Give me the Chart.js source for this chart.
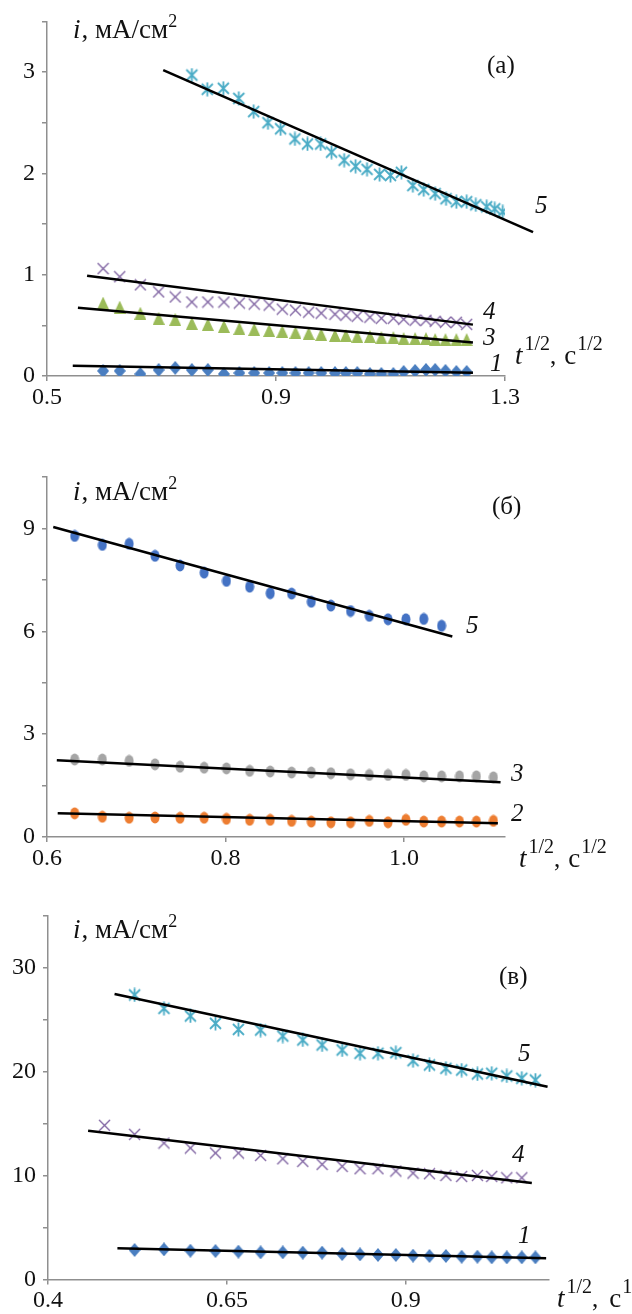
<!DOCTYPE html>
<html>
<head>
<meta charset="utf-8">
<title>i – t^1/2</title>
<script src="https://cdn.jsdelivr.net/npm/chart.js"></script>
<style>
  html, body { margin: 0; padding: 0; background: #fff; }
  body { width: 632px; height: 1314px; position: relative; overflow: hidden; }
  canvas { position: absolute; left: 0; }
</style>
</head>
<body>
<canvas id="chartA" width="632" height="420" style="top:0"></canvas>
<canvas id="chartB" width="632" height="460" style="top:420px"></canvas>
<canvas id="chartC" width="632" height="434" style="top:880px"></canvas>
<script>
// ---- panel (а) ----
var tA  = [0.598, 0.627, 0.663, 0.695, 0.724, 0.753, 0.781, 0.809, 0.836, 0.862, 0.888, 0.911, 0.934, 0.957,
           0.979, 1.003, 1.022, 1.042, 1.064, 1.084, 1.105, 1.123, 1.143, 1.162, 1.178, 1.196, 1.215, 1.233];
var iA1 = [0.05, 0.05, 0.02, 0.06, 0.08, 0.06, 0.06, 0.02, 0.03, 0.03, 0.03, 0.03, 0.03, 0.03,
           0.03, 0.03, 0.03, 0.03, 0.02, 0.02, 0.02, 0.04, 0.05, 0.06, 0.06, 0.05, 0.04, 0.04];
var iA3 = [0.72, 0.68, 0.62, 0.57, 0.56, 0.52, 0.51, 0.49, 0.47, 0.46, 0.45, 0.44, 0.43, 0.42,
           0.41, 0.40, 0.40, 0.39, 0.39, 0.38, 0.38, 0.37, 0.37, 0.37, 0.36, 0.36, 0.36, 0.36];
var iA4 = [1.06, 0.98, 0.90, 0.83, 0.78, 0.73, 0.73, 0.73, 0.72, 0.71, 0.70, 0.66, 0.65, 0.63,
           0.62, 0.61, 0.60, 0.59, 0.58, 0.57, 0.57, 0.56, 0.55, 0.55, 0.54, 0.53, 0.53, 0.51];
var tA5 = [0.753, 0.780, 0.808, 0.835, 0.861, 0.886, 0.908, 0.933, 0.955, 0.978, 0.997, 1.019, 1.039, 1.059,
           1.081, 1.100, 1.119, 1.139, 1.158, 1.178, 1.197, 1.215, 1.233, 1.249, 1.268, 1.282, 1.296];
var iA5 = [2.97, 2.83, 2.84, 2.74, 2.61, 2.50, 2.44, 2.34, 2.29, 2.29, 2.21, 2.13, 2.07, 2.04,
           1.99, 1.98, 2.01, 1.88, 1.84, 1.80, 1.75, 1.72, 1.72, 1.69, 1.67, 1.65, 1.62];
// linear fits: [start, end]
var fitA1x = [0.545, 1.244], fitA1y = [0.100, 0.032];
var fitA3x = [0.554, 1.244], fitA3y = [0.673, 0.330];
var fitA4x = [0.570, 1.244], fitA4y = [0.990, 0.507];
var fitA5x = [0.703, 1.349], fitA5y = [3.02, 1.42];
var xTicksA = [0.5, 0.9, 1.3],  xLabelsA = ['0.5', '0.9', '1.3'];
var yTicksA = [0, 0.5, 1, 1.5, 2, 2.5, 3, 3.5], yLabelsA = ['0', '', '1', '', '2', '', '3', ''];

// ---- panel (б) ----
var tB  = [0.631, 0.662, 0.692, 0.721, 0.749, 0.776, 0.801, 0.827, 0.850, 0.874, 0.896,
           0.918, 0.940, 0.961, 0.982, 1.002, 1.022, 1.042, 1.062, 1.081, 1.100];
var iB2 = [0.69, 0.59, 0.56, 0.57, 0.56, 0.56, 0.53, 0.50, 0.50, 0.47, 0.45,
           0.43, 0.43, 0.47, 0.43, 0.50, 0.45, 0.45, 0.45, 0.45, 0.47];
var iB3 = [2.26, 2.26, 2.22, 2.12, 2.05, 2.02, 2.00, 1.93, 1.91, 1.88, 1.88,
           1.86, 1.83, 1.81, 1.81, 1.81, 1.77, 1.77, 1.77, 1.77, 1.74];
var iB5 = [8.78, 8.52, 8.55, 8.20, 7.92, 7.71, 7.47, 7.30, 7.11, 7.10, 6.86,
           6.75, 6.59, 6.45, 6.35, 6.35, 6.36, 6.16];
var fitB2x = [0.612, 1.105], fitB2y = [0.69, 0.40];
var fitB3x = [0.611, 1.108], fitB3y = [2.24, 1.60];
var fitB5x = [0.607, 1.054], fitB5y = [9.04, 5.85];
var xTicksB = [0.6, 0.8, 1.0],  xLabelsB = ['0.6', '0.8', '1.0'];
var yTicksB = [0, 1.5, 3, 4.5, 6, 7.5, 9, 10.5], yLabelsB = ['0', '', '3', '', '6', '', '9', ''];

// ---- panel (в) ----
var tC  = [0.479, 0.521, 0.562, 0.599, 0.634, 0.666, 0.697, 0.728, 0.756, 0.783, 0.811, 0.836,
           0.861, 0.886, 0.910, 0.933, 0.956, 0.978, 1.000, 1.020, 1.041, 1.062, 1.081];
var iC1 = [2.84, 2.90, 2.77, 2.74, 2.68, 2.61, 2.61, 2.58, 2.58, 2.45, 2.42,
           2.36, 2.36, 2.29, 2.26, 2.26, 2.19, 2.19, 2.13, 2.13, 2.13, 2.13];
var iC4 = [14.82, 13.96, 13.12, 12.64, 12.16, 12.16, 11.93, 11.61, 11.36, 11.07, 10.88,
           10.65, 10.65, 10.43, 10.23, 10.17, 10.01, 9.91, 10.01, 9.91, 9.78, 9.78];
var iC5 = [27.36, 26.07, 25.34, 24.63, 24.05, 23.99, 23.41, 23.03, 22.55, 22.07, 21.75,
           21.75, 21.81, 21.04, 20.63, 20.31, 20.14, 19.76, 19.83, 19.57, 19.35, 19.18];
var fitC1x = [0.497, 1.096], fitC1y = [3.00, 2.04];
var fitC4x = [0.456, 1.076], fitC4y = [14.30, 9.27];
var fitC5x = [0.493, 1.098], fitC5y = [27.45, 18.53];
var xTicksC = [0.4, 0.65, 0.9], xLabelsC = ['0.4', '0.65', '0.9'];
var yTicksC = [0, 5, 10, 15, 20, 25, 30, 35], yLabelsC = ['0', '', '10', '', '20', '', '30', ''];

var SERIF = "'Liberation Serif', 'Times New Roman', serif";
var AXIS = '#8f8f8f';
Chart.defaults.font.family = SERIF;
Chart.defaults.color = '#111';

// marker sprites (Excel-like shapes)
function sprite(w, h, paint) {
  var c = document.createElement('canvas');
  c.width = w; c.height = h;
  paint(c.getContext('2d'), w, h);
  return c;
}
var starCyan = sprite(15, 15, function (g) {
  g.strokeStyle = '#4BACC6'; g.lineWidth = 1.8; g.beginPath();
  g.moveTo(2, 2); g.lineTo(13, 13); g.moveTo(13, 2); g.lineTo(2, 13);
  g.moveTo(7.5, 0.5); g.lineTo(7.5, 14.5); g.stroke();
});
var crossPurple = sprite(13, 13, function (g) {
  g.strokeStyle = '#8064A2'; g.lineWidth = 1.4; g.beginPath();
  g.moveTo(1, 1); g.lineTo(12, 12); g.moveTo(12, 1); g.lineTo(1, 12); g.stroke();
});
var triGreen = sprite(12, 13, function (g, w, h) {
  g.fillStyle = '#9BBB59'; g.beginPath();
  g.moveTo(w / 2, 0); g.lineTo(w, h); g.lineTo(0, h); g.closePath(); g.fill();
});
function diamond(color) {
  return sprite(12, 14, function (g, w, h) {
    g.fillStyle = color; g.beginPath();
    g.moveTo(w / 2, 0); g.lineTo(w, h / 2); g.lineTo(w / 2, h); g.lineTo(0, h / 2); g.closePath(); g.fill();
  });
}
function dot(color) {
  return sprite(10, 13, function (g, w, h) {
    g.fillStyle = color; g.beginPath();
    g.ellipse(w / 2, h / 2, w / 2 - 0.5, h / 2 - 0.5, 0, 0, Math.PI * 2); g.fill();
  });
}

function pts(xs, ys) {
  return ys.map(function (y, k) { return { x: xs[k], y: y }; });
}
function markers(xs, ys, img) {
  return { data: pts(xs, ys), pointStyle: img, pointRadius: 6, showLine: false, order: 2 };
}
function fit(xs, ys) {
  return { data: pts(xs, ys), showLine: true, borderColor: '#000', borderWidth: 2.5,
           pointRadius: 0, order: 1, clip: false };
}

// free text drawn on top: runs of [text, font, dy, extra gap]
function notes(items) {
  return {
    id: 'notes',
    afterDraw: function (chart) {
      var g = chart.ctx;
      g.save();
      g.fillStyle = '#111';
      g.textBaseline = 'alphabetic';
      items.forEach(function (it) {
        var x = it.x;
        it.run.forEach(function (p) {
          g.font = p[1];
          g.fillText(p[0], x, it.y + (p[2] || 0));
          x += g.measureText(p[0]).width + (p[3] || 0);
        });
      });
      g.restore();
    }
  };
}

var F = function (style, size) { return (style ? style + ' ' : '') + size + 'px ' + SERIF; };
function yTitle(x, y) {
  return { x: x, y: y, run: [['i', F('italic', 27), 0, 1], [', мА/см', F('', 27)], ['2', F('', 18), -11]] };
}
function tTitle(x, y, last, gap) {
  return { x: x, y: y, run: [['t', F('italic', 27), 0, 2], ['1/2', F('', 20), -14], [',', F('', 25), 0, gap || 8],
                              ['c', F('', 27), 0, 1], [last, F('', 20), -14]] };
}
function num(s, x, y) { return { x: x, y: y, run: [[s, F('italic', 25)]] }; }

function panel(id, c) {
  var canvas = document.getElementById(id);
  var H = canvas.height;
  new Chart(canvas, {
    type: 'scatter',
    data: { datasets: c.datasets },
    options: {
      responsive: false, animation: false, devicePixelRatio: 1, events: [],
      layout: { padding: { top: c.top, right: 632 - c.right, left: 0, bottom: 0 } },
      plugins: { legend: { display: false }, tooltip: { enabled: false } },
      scales: {
        x: {
          type: 'linear', min: c.xMin, max: c.xMax,
          afterBuildTicks: function (s) { s.ticks = c.xTicks.map(function (v) { return { value: v }; }); },
          afterFit: function (s) { s.height = H - c.bottom; },
          ticks: { autoSkip: false, maxRotation: 0, padding: 2, font: { size: 24 },
                   callback: function (v, k) { return c.xLabels[k]; } },
          grid: { drawOnChartArea: false, drawTicks: true, tickLength: 5, color: AXIS, lineWidth: 1.5 },
          border: { display: true, color: AXIS, width: 1.5 }
        },
        y: {
          type: 'linear', min: 0, max: c.yMax,
          afterBuildTicks: function (s) { s.ticks = c.yTicks.map(function (v) { return { value: v }; }); },
          afterFit: function (s) { s.width = c.left; },
          ticks: { autoSkip: false, padding: 7, font: { size: 24 },
                   callback: function (v, k) { return c.yLabels[k]; } },
          grid: { drawOnChartArea: false, drawTicks: true, tickLength: 5, color: AXIS, lineWidth: 1.5 },
          border: { display: true, color: AXIS, width: 1.5 }
        }
      }
    },
    plugins: [notes(c.notes)]
  });
}

panel('chartA', {
  left: 47, right: 505, top: 12, bottom: 376,
  xMin: 0.5, xMax: 1.3, yMax: 3.5,
  xTicks: xTicksA, xLabels: xLabelsA, yTicks: yTicksA, yLabels: yLabelsA,
  datasets: [
    fit(fitA1x, fitA1y), fit(fitA3x, fitA3y), fit(fitA4x, fitA4y), fit(fitA5x, fitA5y),
    markers(tA, iA1, diamond('#4A7EC0')),
    markers(tA, iA3, triGreen),
    markers(tA, iA4, crossPurple),
    markers(tA5, iA5, starCyan)
  ],
  notes: [
    yTitle(73, 38),
    { x: 487, y: 73, run: [['(а)', F('', 25)]] },
    num('5', 535, 213), num('4', 483, 319), num('3', 483, 345), num('1', 490, 371),
    tTitle(515, 364, '1/2')
  ]
});

panel('chartB', {
  left: 47, right: 505, top: 57, bottom: 417,
  xMin: 0.6, xMax: 1.113, yMax: 10.5,
  xTicks: xTicksB, xLabels: xLabelsB, yTicks: yTicksB, yLabels: yLabelsB,
  datasets: [
    fit(fitB2x, fitB2y), fit(fitB3x, fitB3y), fit(fitB5x, fitB5y),
    markers(tB, iB2, dot('#ED7D31')),
    markers(tB, iB3, dot('#A5A5A5')),
    markers(tB.slice(0, iB5.length), iB5, dot('#4472C4'))
  ],
  notes: [
    yTitle(73, 80),
    { x: 492, y: 94, run: [['(б)', F('', 25)]] },
    num('5', 466, 213), num('3', 511, 361), num('2', 511, 401),
    tTitle(519, 447, '1/2')
  ]
});

panel('chartC', {
  left: 48, right: 549, top: 35.5, bottom: 399.5,
  xMin: 0.4, xMax: 1.1, yMax: 35,
  xTicks: xTicksC, xLabels: xLabelsC, yTicks: yTicksC, yLabels: yLabelsC,
  datasets: [
    fit(fitC1x, fitC1y), fit(fitC4x, fitC4y), fit(fitC5x, fitC5y),
    markers(tC.slice(1), iC1, diamond('#4A7EC0')),
    markers(tC.slice(0, iC4.length), iC4, crossPurple),
    markers(tC.slice(1), iC5, starCyan)
  ],
  notes: [
    yTitle(73, 58),
    { x: 499, y: 104, run: [['(в)', F('', 25)]] },
    num('5', 518, 181), num('4', 512, 282), num('1', 518, 363),
    tTitle(557, 427, '1/2', 11)
  ]
});
</script>
</body>
</html>
